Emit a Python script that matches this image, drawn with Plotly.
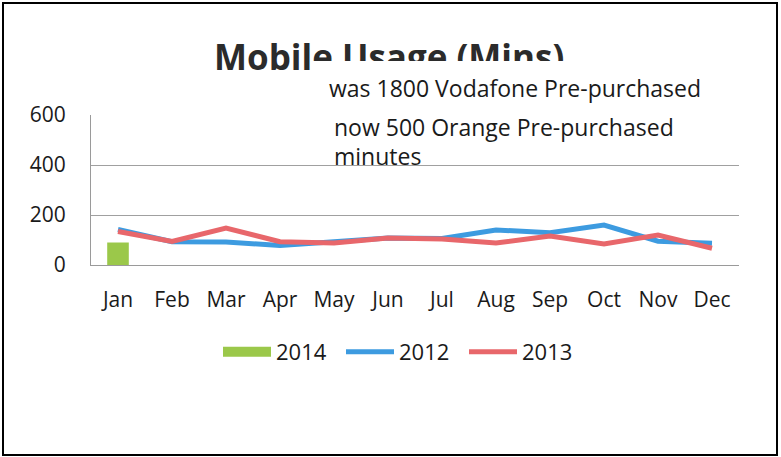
import plotly.graph_objects as go

months = ["Jan", "Feb", "Mar", "Apr", "May", "Jun", "Jul", "Aug", "Sep", "Oct", "Nov", "Dec"]
usage_2014 = [90]
usage_2012 = [142, 93, 92, 78, 93, 108, 106, 140, 129, 160, 95, 87]
usage_2013 = [134, 94, 148, 93, 88, 108, 104, 88, 116, 84, 120, 67]
y_ticks = [0, 200, 400, 600]

title_text = "Mobile Usage (Mins)"
note_lines = ["was 1800 Vodafone Pre-purchased", "now 500 Orange Pre-purchased", "minutes"]

W, H = 781, 457
L, R, T, B = 91, 739, 115, 265  # plot area in px


def px(x):
    return (x - L) / (R - L)


def py(y):
    return (B - y) / (B - T)


FONT = "Open Sans, Noto Sans, sans-serif"
TXT = "#1a1a1a"
GREEN, BLUE, RED = "#9bc84a", "#3d9be0", "#e8676b"

fig = go.Figure()
fig.add_trace(go.Bar(x=months[:len(usage_2014)], y=usage_2014, name="2014", legendgroup="2014",
                     showlegend=False, marker=dict(color=GREEN, line=dict(width=0)), width=0.4))
# legend entry for the 2014 bar (wide flat swatch like the original)
fig.add_trace(go.Scatter(x=[None], y=[None], name="2014", legendgroup="2014", mode="lines",
                         line=dict(color=GREEN, width=13), hoverinfo="skip"))
fig.add_trace(go.Scatter(x=months, y=usage_2012, name="2012", mode="lines",
                         line=dict(color=BLUE, width=5)))
fig.add_trace(go.Scatter(x=months, y=usage_2013, name="2013", mode="lines",
                         line=dict(color=RED, width=5)))

annotations = [
    dict(text="<b>" + title_text + "</b>", x=px(212), y=py(57), xref="paper", yref="paper",
         xanchor="left", yanchor="middle", showarrow=False,
         font=dict(family=FONT, size=35, color="#2b2b2b")),
    dict(text=" ", x=px(311), y=py(61), xref="paper", yref="paper",
         xanchor="left", yanchor="top", showarrow=False, width=428, height=100,
         bgcolor="white", borderpad=0, borderwidth=0),
]
note_pos = [(327, 88), (332, 127), (332, 156)]
for line, (xx, yy) in zip(note_lines, note_pos):
    annotations.append(dict(text=line, x=px(xx), y=py(yy), xref="paper", yref="paper",
                            xanchor="left", yanchor="middle", showarrow=False,
                            font=dict(family=FONT, size=23, color=TXT)))

fig.update_layout(
    width=W, height=H,
    margin=dict(l=L, r=W - R, t=T, b=H - B, pad=0),
    paper_bgcolor="white", plot_bgcolor="white",
    font=dict(family=FONT, size=21, color=TXT),
    showlegend=True,
    legend=dict(orientation="h", x=px(218), xanchor="left", y=py(352), yanchor="middle",
                font=dict(family=FONT, size=22, color=TXT), itemwidth=48,
                traceorder="normal", bgcolor="rgba(0,0,0,0)", entrywidth=60,
                entrywidthmode="pixels"),
    annotations=annotations,
    shapes=[dict(type="rect", xref="paper", yref="paper", x0=px(3), x1=px(777),
                 y0=py(3), y1=py(455), line=dict(color="black", width=2),
                 fillcolor="rgba(0,0,0,0)", layer="above")],
)
fig.update_xaxes(type="category", categoryorder="array", categoryarray=months,
                 range=[-0.5, 11.5], showgrid=False, showline=True, linecolor="#9a9a9a",
                 linewidth=1, ticks="", ticklabelstandoff=16, zeroline=False)
fig.update_yaxes(range=[0, 600], tickvals=y_ticks, showgrid=True, gridcolor="#a0a0a0",
                 gridwidth=1, showline=True, linecolor="#9a9a9a", linewidth=1, ticks="",
                 ticklabelstandoff=20, zeroline=False)

fig.write_html("out.html", config={"displayModeBar": False},
               post_script="document.body.style.margin='0';document.body.style.overflow='hidden';")
